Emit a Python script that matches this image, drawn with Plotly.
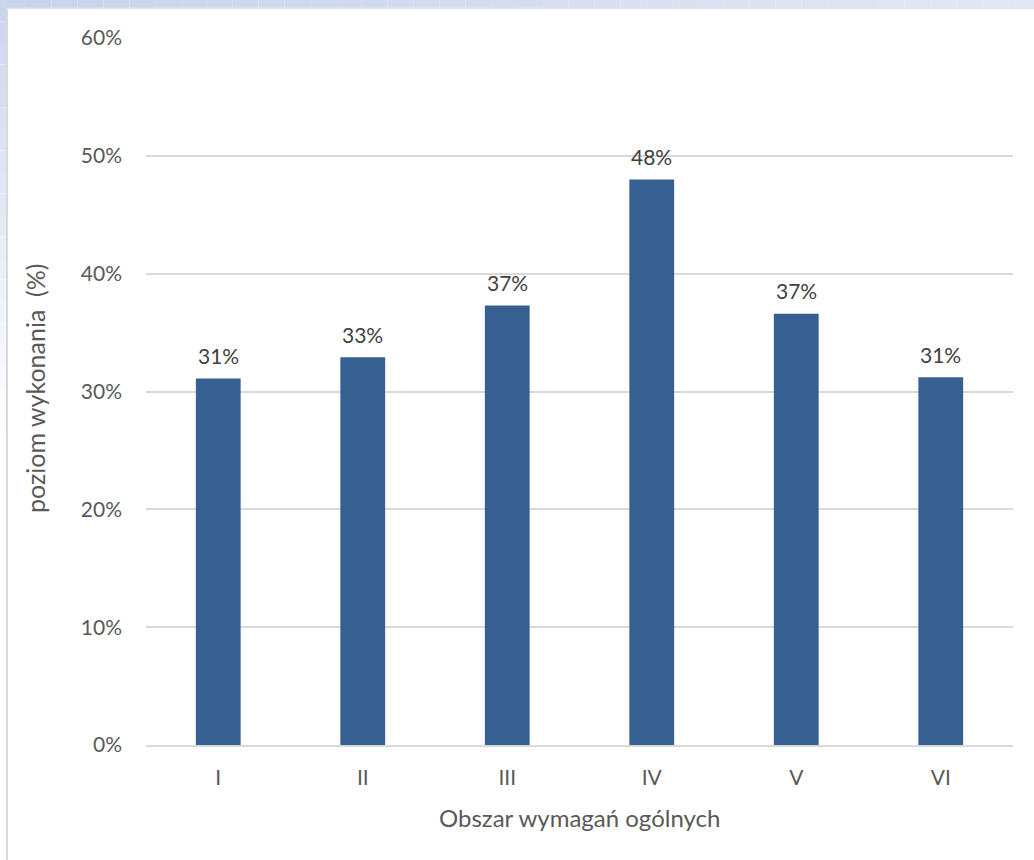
import plotly.graph_objects as go

# Obszary wymagań ogólnych i średni poziom wykonania (ułamek)
obszary = ["I", "II", "III", "IV", "V", "VI"]
poziom = [0.311, 0.329, 0.373, 0.480, 0.366, 0.312]
y_ticks = [0, 0.1, 0.2, 0.3, 0.4, 0.5, 0.6]

W, H = 1034, 860
M_L, M_R, M_T, M_B = 146, 21, 38, 115
PW, PH = W - M_L - M_R, H - M_T - M_B


def px_x(x):
    return (x - M_L) / PW


def px_y(y):
    return (H - M_B - y) / PH


def hex_mix(c1, c2, t):
    a = [int(c1[i:i + 2], 16) for i in (1, 3, 5)]
    b = [int(c2[i:i + 2], 16) for i in (1, 3, 5)]
    return "#" + "".join(f"{round(a[k] + (b[k] - a[k]) * t):02x}" for k in range(3))


FONT = "Lato, 'Open Sans', sans-serif"

fig = go.Figure(
    go.Bar(
        x=obszary,
        y=poziom,
        marker=dict(color="#376092", line=dict(width=0)),
        width=0.31,
    )
)

# etykiety wartości nad słupkami
value_labels = [
    dict(x=k, y=v, text=f"{round(v * 100)}%", xref="x", yref="y",
         showarrow=False, yanchor="middle", yshift=23,
         font=dict(size=21, color="#404040"))
    for k, v in zip(obszary, poziom)
]

shapes = []
# pasek u góry strony
steps = 40
for i in range(steps):
    x0 = W * i / steps
    x1 = W * (i + 1) / steps
    shapes.append(dict(type="rect", xref="paper", yref="paper",
                       x0=px_x(x0), x1=px_x(x1), y0=px_y(8), y1=px_y(0),
                       fillcolor=hex_mix("#c8d4ec", "#e2e7f4", i / (steps - 1)),
                       line=dict(width=0), layer="below"))
# pasek z lewej, zanikający ku dołowi
for i in range(steps):
    y0 = H * i / steps
    y1 = H * (i + 1) / steps
    t = min(1.0, i / (steps * 0.5))
    shapes.append(dict(type="rect", xref="paper", yref="paper",
                       x0=px_x(0), x1=px_x(6), y0=px_y(y1), y1=px_y(y0),
                       fillcolor=hex_mix("#cbd6ee", "#ffffff", t),
                       line=dict(width=0), layer="below"))
# krawędź karty
shapes.append(dict(type="line", xref="paper", yref="paper",
                   x0=px_x(7), x1=px_x(7), y0=px_y(H), y1=px_y(8),
                   line=dict(color="#d9d9d9", width=2), layer="below"))
shapes.append(dict(type="line", xref="paper", yref="paper",
                   x0=px_x(7), x1=px_x(W), y0=px_y(8.5), y1=px_y(8.5),
                   line=dict(color="#e6e6e6", width=1.5), layer="below"))

fig.update_layout(
    width=W, height=H,
    margin=dict(l=M_L, r=M_R, t=M_T, b=M_B, pad=0),
    paper_bgcolor="white",
    plot_bgcolor="white",
    showlegend=False,
    font=dict(family=FONT, color="#595959", size=21),
    shapes=shapes,
    xaxis=dict(
        showgrid=False, showline=True, linecolor="#d9d9d9", linewidth=1.5,
        ticks="", tickfont=dict(size=21, color="#595959"),
        ticklabelstandoff=13,
    ),
    yaxis=dict(
        range=[0, 0.6], tickvals=y_ticks, tickformat=".0%",
        showgrid=True, gridcolor="#d9d9d9", gridwidth=1.5,
        zeroline=False, showline=False, ticks="",
        tickfont=dict(size=21, color="#595959"),
        ticklabelstandoff=23,
    ),
    annotations=value_labels + [
        dict(text="Obszar wymagań ogólnych", xref="paper", yref="paper",
             x=px_x(579), y=px_y(818), xanchor="center", yanchor="middle",
             showarrow=False, font=dict(size=24, color="#595959")),
        dict(text="poziom wykonania \u00a0(%)", xref="paper", yref="paper",
             x=px_x(35), y=px_y(388), xanchor="center", yanchor="middle",
             textangle=-90, showarrow=False,
             font=dict(size=25, color="#595959")),
    ],
)

fig.write_html("out.html")
